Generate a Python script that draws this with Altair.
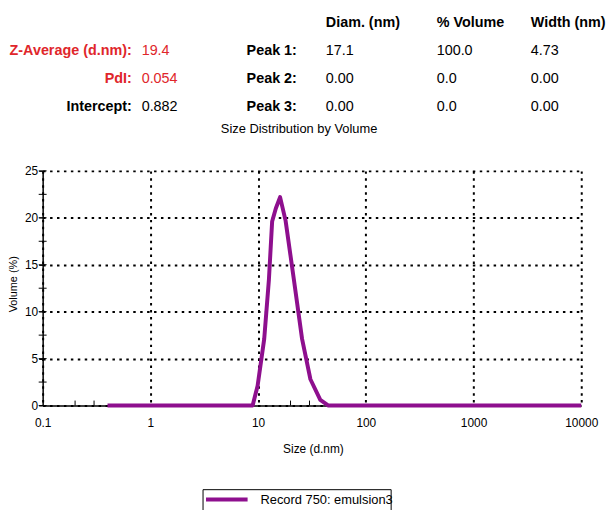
import altair as alt
import pandas as pd

# ---- data ----
sizes_nm = [0.4, 1, 8.9, 9.9, 11.4, 12.6, 13.5, 14.6, 16, 18, 21.5, 25.6, 30.6, 37.8, 45, 100, 1000, 10000]
volume_pct = [0, 0, 0, 2.1, 7.1, 13.4, 19.6, 21.0, 22.2, 19.7, 13.4, 7.1, 2.8, 0.6, 0, 0, 0, 0]
series_name = "Record 750: emulsion3"

x_ticks = [0.1, 1, 10, 100, 1000, 10000]
x_minor = [0.2, 0.3, 20, 30]
y_ticks = [0, 5, 10, 15, 20, 25]
y_minor = [0, 2.5, 5, 7.5, 10, 12.5, 15, 17.5, 20, 22.5, 25]

summary_labels = ["Z-Average (d.nm):", "PdI:", "Intercept:"]
summary_values = ["19.4", "0.054", "0.882"]
summary_red = [True, True, False]
peak_labels = ["Peak 1:", "Peak 2:", "Peak 3:"]
table_headers = ["Diam. (nm)", "% Volume", "Width (nm)"]
peak_diam = ["17.1", "0.00", "0.00"]
peak_volume = ["100.0", "0.0", "0.0"]
peak_width = ["4.73", "0.00", "0.00"]
subtitle = "Size Distribution by Volume"

# ---- styling ----
SANS = "Liberation Sans, Arial, Helvetica, sans-serif"
NARROW = "Liberation Sans Narrow, Arial Narrow, Liberation Sans, sans-serif"
RED = "#e0262b"
PURPLE = "#8e0f8e"

df = pd.DataFrame({"size": sizes_nm, "volume": volume_pct, "series": [series_name] * len(sizes_nm)})

xscale = alt.Scale(type="log", domain=[0.1, 10000])
yscale = alt.Scale(domain=[0, 25], nice=False, zero=True)

line = alt.Chart(df).mark_line(strokeWidth=4, clip=False, strokeJoin="round", color=PURPLE).encode(
    x=alt.X("size:Q", scale=xscale,
            axis=alt.Axis(values=x_ticks, format="~g", title="Size (d.nm)", grid=True,
                          titleX=273, titleY=38, tickSize=0, labelPadding=12,
                          labelFlush=False)),
    y=alt.Y("volume:Q", scale=yscale,
            axis=alt.Axis(values=y_ticks, title="Volume (%)", grid=True,
                          titleX=-29, titleY=114, titleBaseline="middle", titleFontSize=11,
                          tickSize=4, labelPadding=1)),
)

ymin_df = pd.DataFrame({"v": y_minor})
ymin = alt.Chart(ymin_df).mark_rule(color="black", strokeWidth=1).encode(
    y=alt.Y("v:Q", scale=yscale), x=alt.value(-4), x2=alt.value(4))

xmin_df = pd.DataFrame({"s": x_minor})
xmin = alt.Chart(xmin_df).mark_rule(color="black", strokeWidth=1).encode(
    x=alt.X("s:Q", scale=xscale), y=alt.value(237), y2=alt.value(232))

dummy = pd.DataFrame({"k": [0]})

# legend drawn by hand (the reference's box is cut by the picture's edge)
leg_box = alt.Chart(dummy).mark_rect(fillOpacity=0, stroke="black", strokeWidth=1).encode(
    x=alt.value(162), x2=alt.value(352), y=alt.value(322), y2=alt.value(346))
leg_line = alt.Chart(dummy).mark_rule(color=PURPLE, strokeWidth=4).encode(
    x=alt.value(165), x2=alt.value(207), y=alt.value(332))
leg_text = alt.Chart(dummy).mark_text(
    text=series_name, align="left", baseline="middle", font=NARROW, fontSize=13, color="black"
).encode(x=alt.value(220), y=alt.value(332))


def txt(s, x, y, color="black", bold=False, align="left", size=14.5, font=SANS):
    return alt.Chart(dummy).mark_text(
        text=s, align=align, baseline="middle", font=font, fontSize=size,
        fontWeight="bold" if bold else "normal", color=color,
    ).encode(x=alt.value(x), y=alt.value(y))


row_y = [-121, -93, -64]
head_y = -149
col_x = [286, 398, 493]

texts = []
for i, h in enumerate(table_headers):
    texts.append(txt(h, col_x[i], head_y, bold=True))
for r in range(3):
    c = RED if summary_red[r] else "black"
    texts.append(txt(summary_labels[r], 90, row_y[r], color=c, bold=True, align="right"))
    texts.append(txt(summary_values[r], 100, row_y[r], color=c))
    texts.append(txt(peak_labels[r], 206, row_y[r], bold=True))
    texts.append(txt(peak_diam[r], col_x[0], row_y[r]))
    texts.append(txt(peak_volume[r], col_x[1], row_y[r]))
    texts.append(txt(peak_width[r], col_x[2], row_y[r]))
texts.append(txt(subtitle, 259, -42, align="center", size=13, font=NARROW))

chart = alt.layer(ymin, xmin, line, leg_box, leg_line, leg_text, *texts).properties(
    width=544, height=237, autosize="none",
    padding={"left": 35, "top": 162, "right": 25, "bottom": 103},
).configure_view(stroke=None).configure_axis(
    gridColor="black", gridDash=[2.5, 4.5], gridWidth=2, gridOpacity=1,
    domainColor="black", domainWidth=1.5, tickColor="black",
    labelFont=NARROW, labelFontSize=12, labelColor="black",
    titleFont=NARROW, titleFontSize=12, titleFontWeight="normal", titleColor="black",
)

chart.save("out.html", embed_options={"renderer": "svg", "actions": False})
